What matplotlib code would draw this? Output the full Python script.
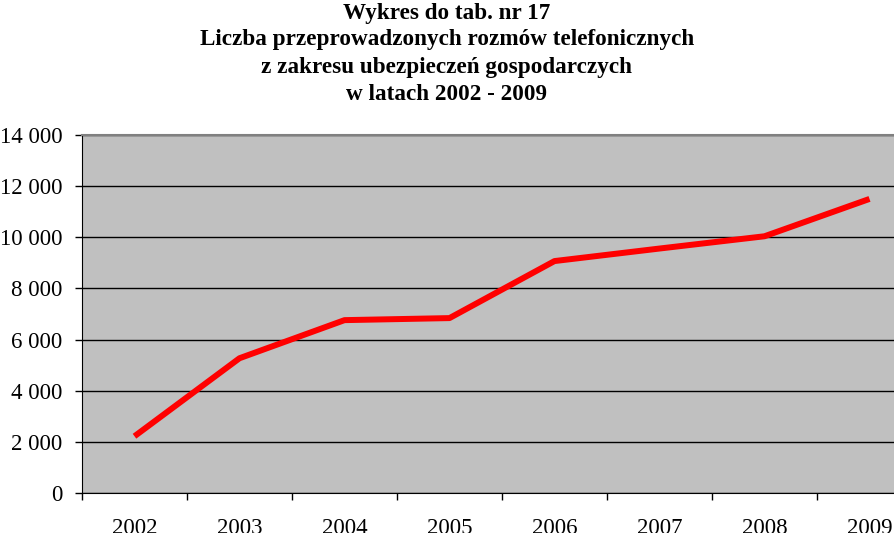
import matplotlib.pyplot as plt
import matplotlib.ticker as mticker
import numpy as np

# dane
years = ['2002', '2003', '2004', '2005', '2006', '2007', '2008', '2009']
calls = [2220, 5270, 6760, 6840, 9070, 9560, 10040, 11500]
title_lines = ['Wykres do tab. nr 17',
               'Liczba przeprowadzonych rozmów telefonicznych',
               'z zakresu ubezpieczeń gospodarczych',
               'w latach 2002 - 2009']

plt.rcParams['font.family'] = ['Liberation Serif', 'DejaVu Serif']

W, H = 895, 533
fig = plt.figure(figsize=(W / 100, H / 100), dpi=100)
# obszar wykresu wychodzi poza prawa krawedz (jak w oryginale)
ax = fig.add_axes([82 / W, (H - 493) / H, 840 / W, 358 / H])
ax.set_facecolor('#c0c0c0')

x = np.arange(len(years))
ax.plot(x, calls, color='#ff0000', linewidth=4.3, solid_capstyle='butt', zorder=3)

ax.set_xlim(-0.5, len(years) - 0.5)
ax.set_ylim(0, 14000)

# podzialki na granicach kategorii, etykiety na srodkach
ax.set_xticks(np.arange(-0.5, len(years), 1.0))
ax.set_xticklabels([])
ax.set_xticks(x, minor=True)
ax.set_xticklabels(years, minor=True, fontsize=16.5)
ax.tick_params(axis='x', which='major', direction='out', length=5, width=1, color='black')
ax.tick_params(axis='x', which='minor', length=0, pad=18)

ax.set_yticks(np.arange(0, 14001, 2000))
ax.yaxis.set_major_formatter(mticker.FuncFormatter(lambda v, p: f'{int(v):,}'.replace(',', ' ')))
ax.tick_params(axis='y', direction='out', length=5, width=1, pad=9, labelsize=16.5)

ax.grid(axis='y', color='black', linewidth=1)
ax.set_axisbelow(True)

ax.spines['left'].set_color('black')
ax.spines['bottom'].set_color('black')
ax.spines['top'].set_color('#808080')
ax.spines['top'].set_linewidth(1.5)
ax.spines['right'].set_color('#808080')

ys = [13, 40, 67, 95]
for line, yy in zip(title_lines, ys):
    fig.text(447 / W, 1 - yy / H, line, ha='center', va='center',
             fontsize=16.7, fontweight='bold')

fig.savefig('out.png', dpi=100)
